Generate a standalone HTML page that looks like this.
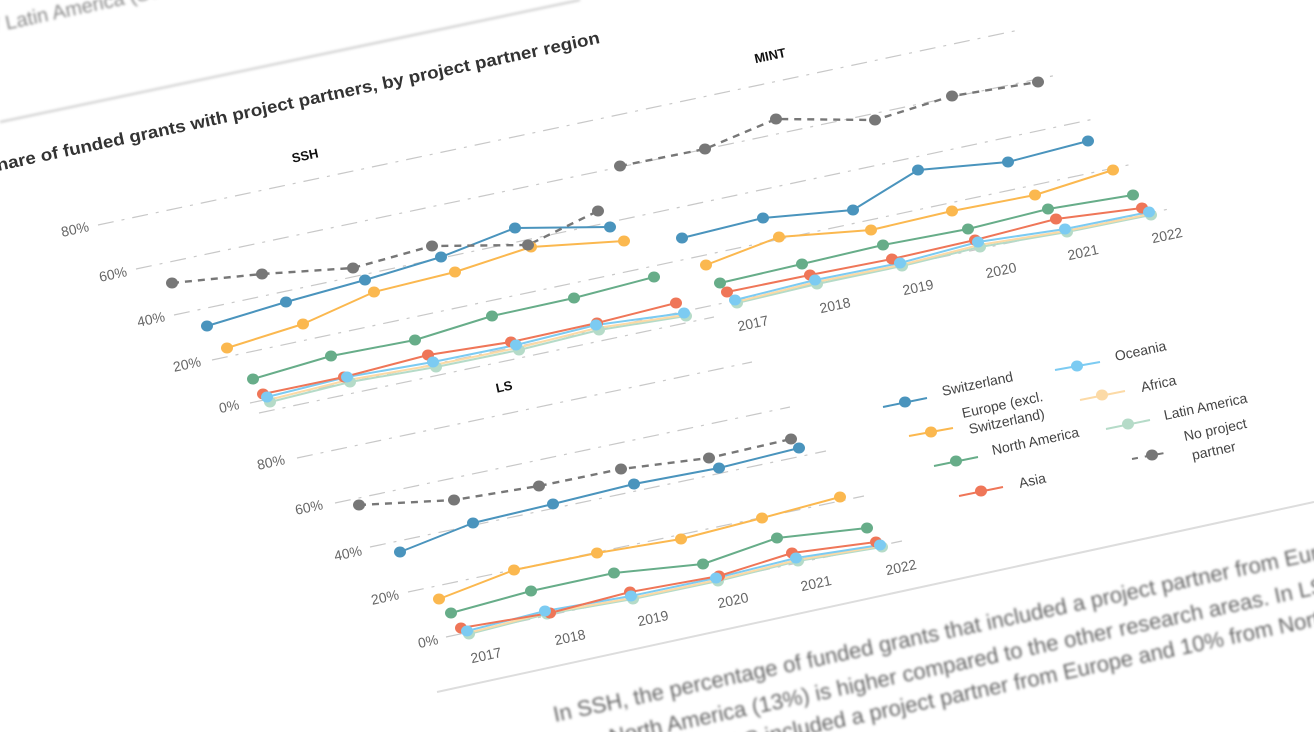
<!DOCTYPE html>
<html><head><meta charset="utf-8"><style>
html,body{margin:0;padding:0;background:#fff;width:1314px;height:732px;overflow:hidden}
svg{display:block;font-family:"Liberation Sans",sans-serif}
</style></head><body>
<svg width="1314" height="732" viewBox="0 0 1314 732">
<defs>
<filter id="b1"><feGaussianBlur stdDeviation="1.3"/></filter>
<clipPath id="cp"><rect x="0" y="0" width="1314" height="732"/></clipPath>
</defs>
<g clip-path="url(#cp)">
<g filter="url(#b1)">
<text transform="translate(-4,32) rotate(-12)" font-size="20" fill="#8a8a8a">/ Latin America (South</text>
<line x1="0" y1="122" x2="580" y2="0" stroke="#ccc" stroke-width="2"/>
</g>
<text transform="translate(-2,171) rotate(-12)" font-size="17" font-weight="bold" fill="#333" textLength="616" lengthAdjust="spacingAndGlyphs">hare of funded grants with project partners, by project partner region</text>
<text transform="translate(306,160) rotate(-12)" font-size="13" font-weight="bold" fill="#111" text-anchor="middle">SSH</text>
<text transform="translate(771,60) rotate(-12)" font-size="13" font-weight="bold" fill="#111" text-anchor="middle">MINT</text>
<text transform="translate(505,391) rotate(-12)" font-size="13" font-weight="bold" fill="#111" text-anchor="middle">LS</text>

<g stroke="#c8c8c8" stroke-width="1.2" stroke-dasharray="16 8 3 8" fill="none">
<line x1="250" y1="403" x2="1169" y2="209"/>
<line x1="212" y1="360" x2="1133" y2="164"/>
<line x1="174" y1="315" x2="1094" y2="119"/>
<line x1="136" y1="269" x2="1057" y2="75"/>
<line x1="98" y1="225" x2="1019" y2="30"/>
<line x1="446" y1="637" x2="902" y2="541"/>
<line x1="408" y1="592" x2="864" y2="496"/>
<line x1="370" y1="547" x2="826" y2="451"/>
<line x1="335" y1="503" x2="790" y2="407"/>
<line x1="297" y1="458" x2="752" y2="362"/>
<line x1="259" y1="413" x2="714" y2="317"/>
</g>
<g font-size="14" fill="#666" text-anchor="middle">
<text transform="translate(76,234) rotate(-12)">80%</text>
<text transform="translate(114,279) rotate(-12)">60%</text>
<text transform="translate(152,324) rotate(-12)">40%</text>
<text transform="translate(188,369) rotate(-12)">20%</text>
<text transform="translate(230,411) rotate(-12)">0%</text>
<text transform="translate(272,467) rotate(-12)">80%</text>
<text transform="translate(310,512) rotate(-12)">60%</text>
<text transform="translate(349,558) rotate(-12)">40%</text>
<text transform="translate(386,602) rotate(-12)">20%</text>
<text transform="translate(429,646) rotate(-12)">0%</text>
<text transform="translate(754,328) rotate(-12)">2017</text>
<text transform="translate(836,310) rotate(-12)">2018</text>
<text transform="translate(919,292) rotate(-12)">2019</text>
<text transform="translate(1002,275) rotate(-12)">2020</text>
<text transform="translate(1084,257) rotate(-12)">2021</text>
<text transform="translate(1168,240) rotate(-12)">2022</text>
<text transform="translate(487,660) rotate(-12)">2017</text>
<text transform="translate(571,642) rotate(-12)">2018</text>
<text transform="translate(654,623) rotate(-12)">2019</text>
<text transform="translate(734,605) rotate(-12)">2020</text>
<text transform="translate(817,588) rotate(-12)">2021</text>
<text transform="translate(902,572) rotate(-12)">2022</text>
</g>

<g fill="none" stroke-width="2" stroke-linejoin="round">
<polyline stroke="#b5dbc8" points="270,402 350,382 436,367 519,350 599,330 686,316"/>
<polyline stroke="#fcdaa6" points="268,400 348,380 434,365 517,348 597,328 685,315"/>
<polyline stroke="#7ccbf2" points="267,397 347,377 433,362 516,345 596,325 684,313"/>
<polyline stroke="#ef7658" points="263,394 344,377 428,355 511,342 597,323 676,303"/>
<polyline stroke="#67ad89" points="253,379 331,356 415,340 492,316 574,298 654,277"/>
<polyline stroke="#fbb84f" points="227,348 303,324 374,292 455,272 531,247 624,241"/>
<polyline stroke="#4a94bd" points="207,326 286,302 365,280 441,257 515,228 610,227"/>
<polyline stroke="#777" stroke-dasharray="7 6" stroke-width="2.4" points="172,283 262,274 353,268 432,246 528,245 598,211"/>
<polyline stroke="#b5dbc8" points="737,303 817,284 902,266 980,247 1067,232 1151,215"/>
<polyline stroke="#fcdaa6" points="736,302 816,282 901,265 979,245 1066,231 1150,214"/>
<polyline stroke="#7ccbf2" points="735,300 815,280 900,263 978,242 1065,229 1149,212"/>
<polyline stroke="#ef7658" points="727,292 810,275 892,259 975,240 1056,219 1142,208"/>
<polyline stroke="#67ad89" points="720,283 802,264 883,245 968,229 1048,209 1133,195"/>
<polyline stroke="#fbb84f" points="706,265 779,237 871,230 952,211 1035,195 1113,170"/>
<polyline stroke="#4a94bd" points="682,238 763,218 853,210 918,170 1008,162 1088,141"/>
<polyline stroke="#777" stroke-dasharray="7 6" stroke-width="2.4" points="620,166 705,149 776,119 875,120 952,96 1038,82"/>
<polyline stroke="#b5dbc8" points="469,634 547,614 633,599 718,581 798,561 882,547"/>
<polyline stroke="#fcdaa6" points="468,633 546,613 632,598 717,580 797,560 881,546"/>
<polyline stroke="#7ccbf2" points="467,631 545,611 631,596 716,578 796,558 880,545"/>
<polyline stroke="#ef7658" points="461,628 550,613 630,592 719,576 792,553 876,542"/>
<polyline stroke="#67ad89" points="451,613 531,591 614,573 703,564 777,538 867,528"/>
<polyline stroke="#fbb84f" points="439,599 514,570 597,553 681,539 762,518 840,497"/>
<polyline stroke="#4a94bd" points="400,552 473,523 553,504 634,484 719,468 799,448"/>
<polyline stroke="#777" stroke-dasharray="7 6" stroke-width="2.4" points="359,505 454,500 539,486 621,469 709,458 791,439"/>
</g>

<g>
<g fill="#b5dbc8"><ellipse cx="270" cy="402" rx="6" ry="5.5"/><ellipse cx="350" cy="382" rx="6" ry="5.5"/><ellipse cx="436" cy="367" rx="6" ry="5.5"/><ellipse cx="519" cy="350" rx="6" ry="5.5"/><ellipse cx="599" cy="330" rx="6" ry="5.5"/><ellipse cx="686" cy="316" rx="6" ry="5.5"/></g>
<g fill="#ef7658"><ellipse cx="263" cy="394" rx="6" ry="5.5"/><ellipse cx="344" cy="377" rx="6" ry="5.5"/><ellipse cx="428" cy="355" rx="6" ry="5.5"/><ellipse cx="511" cy="342" rx="6" ry="5.5"/><ellipse cx="597" cy="323" rx="6" ry="5.5"/><ellipse cx="676" cy="303" rx="6" ry="5.5"/></g>
<g fill="#7ccbf2"><ellipse cx="267" cy="397" rx="6" ry="5.5"/><ellipse cx="347" cy="377" rx="6" ry="5.5"/><ellipse cx="433" cy="362" rx="6" ry="5.5"/><ellipse cx="516" cy="345" rx="6" ry="5.5"/><ellipse cx="596" cy="325" rx="6" ry="5.5"/><ellipse cx="684" cy="313" rx="6" ry="5.5"/></g>
<g fill="#67ad89"><ellipse cx="253" cy="379" rx="6" ry="5.5"/><ellipse cx="331" cy="356" rx="6" ry="5.5"/><ellipse cx="415" cy="340" rx="6" ry="5.5"/><ellipse cx="492" cy="316" rx="6" ry="5.5"/><ellipse cx="574" cy="298" rx="6" ry="5.5"/><ellipse cx="654" cy="277" rx="6" ry="5.5"/></g>
<g fill="#fbb84f"><ellipse cx="227" cy="348" rx="6" ry="5.5"/><ellipse cx="303" cy="324" rx="6" ry="5.5"/><ellipse cx="374" cy="292" rx="6" ry="5.5"/><ellipse cx="455" cy="272" rx="6" ry="5.5"/><ellipse cx="531" cy="247" rx="6" ry="5.5"/><ellipse cx="624" cy="241" rx="6" ry="5.5"/></g>
<g fill="#4a94bd"><ellipse cx="207" cy="326" rx="6" ry="5.5"/><ellipse cx="286" cy="302" rx="6" ry="5.5"/><ellipse cx="365" cy="280" rx="6" ry="5.5"/><ellipse cx="441" cy="257" rx="6" ry="5.5"/><ellipse cx="515" cy="228" rx="6" ry="5.5"/><ellipse cx="610" cy="227" rx="6" ry="5.5"/></g>
<g fill="#777"><ellipse cx="172" cy="283" rx="6" ry="5.5"/><ellipse cx="262" cy="274" rx="6" ry="5.5"/><ellipse cx="353" cy="268" rx="6" ry="5.5"/><ellipse cx="432" cy="246" rx="6" ry="5.5"/><ellipse cx="528" cy="245" rx="6" ry="5.5"/><ellipse cx="598" cy="211" rx="6" ry="5.5"/></g>
<g fill="#b5dbc8"><ellipse cx="737" cy="303" rx="6" ry="5.5"/><ellipse cx="817" cy="284" rx="6" ry="5.5"/><ellipse cx="902" cy="266" rx="6" ry="5.5"/><ellipse cx="980" cy="247" rx="6" ry="5.5"/><ellipse cx="1067" cy="232" rx="6" ry="5.5"/><ellipse cx="1151" cy="215" rx="6" ry="5.5"/></g>
<g fill="#ef7658"><ellipse cx="727" cy="292" rx="6" ry="5.5"/><ellipse cx="810" cy="275" rx="6" ry="5.5"/><ellipse cx="892" cy="259" rx="6" ry="5.5"/><ellipse cx="975" cy="240" rx="6" ry="5.5"/><ellipse cx="1056" cy="219" rx="6" ry="5.5"/><ellipse cx="1142" cy="208" rx="6" ry="5.5"/></g>
<g fill="#7ccbf2"><ellipse cx="735" cy="300" rx="6" ry="5.5"/><ellipse cx="815" cy="280" rx="6" ry="5.5"/><ellipse cx="900" cy="263" rx="6" ry="5.5"/><ellipse cx="978" cy="242" rx="6" ry="5.5"/><ellipse cx="1065" cy="229" rx="6" ry="5.5"/><ellipse cx="1149" cy="212" rx="6" ry="5.5"/></g>
<g fill="#67ad89"><ellipse cx="720" cy="283" rx="6" ry="5.5"/><ellipse cx="802" cy="264" rx="6" ry="5.5"/><ellipse cx="883" cy="245" rx="6" ry="5.5"/><ellipse cx="968" cy="229" rx="6" ry="5.5"/><ellipse cx="1048" cy="209" rx="6" ry="5.5"/><ellipse cx="1133" cy="195" rx="6" ry="5.5"/></g>
<g fill="#fbb84f"><ellipse cx="706" cy="265" rx="6" ry="5.5"/><ellipse cx="779" cy="237" rx="6" ry="5.5"/><ellipse cx="871" cy="230" rx="6" ry="5.5"/><ellipse cx="952" cy="211" rx="6" ry="5.5"/><ellipse cx="1035" cy="195" rx="6" ry="5.5"/><ellipse cx="1113" cy="170" rx="6" ry="5.5"/></g>
<g fill="#4a94bd"><ellipse cx="682" cy="238" rx="6" ry="5.5"/><ellipse cx="763" cy="218" rx="6" ry="5.5"/><ellipse cx="853" cy="210" rx="6" ry="5.5"/><ellipse cx="918" cy="170" rx="6" ry="5.5"/><ellipse cx="1008" cy="162" rx="6" ry="5.5"/><ellipse cx="1088" cy="141" rx="6" ry="5.5"/></g>
<g fill="#777"><ellipse cx="620" cy="166" rx="6" ry="5.5"/><ellipse cx="705" cy="149" rx="6" ry="5.5"/><ellipse cx="776" cy="119" rx="6" ry="5.5"/><ellipse cx="875" cy="120" rx="6" ry="5.5"/><ellipse cx="952" cy="96" rx="6" ry="5.5"/><ellipse cx="1038" cy="82" rx="6" ry="5.5"/></g>
<g fill="#b5dbc8"><ellipse cx="469" cy="634" rx="6" ry="5.5"/><ellipse cx="547" cy="614" rx="6" ry="5.5"/><ellipse cx="633" cy="599" rx="6" ry="5.5"/><ellipse cx="718" cy="581" rx="6" ry="5.5"/><ellipse cx="798" cy="561" rx="6" ry="5.5"/><ellipse cx="882" cy="547" rx="6" ry="5.5"/></g>
<g fill="#ef7658"><ellipse cx="461" cy="628" rx="6" ry="5.5"/><ellipse cx="550" cy="613" rx="6" ry="5.5"/><ellipse cx="630" cy="592" rx="6" ry="5.5"/><ellipse cx="719" cy="576" rx="6" ry="5.5"/><ellipse cx="792" cy="553" rx="6" ry="5.5"/><ellipse cx="876" cy="542" rx="6" ry="5.5"/></g>
<g fill="#7ccbf2"><ellipse cx="467" cy="631" rx="6" ry="5.5"/><ellipse cx="545" cy="611" rx="6" ry="5.5"/><ellipse cx="631" cy="596" rx="6" ry="5.5"/><ellipse cx="716" cy="578" rx="6" ry="5.5"/><ellipse cx="796" cy="558" rx="6" ry="5.5"/><ellipse cx="880" cy="545" rx="6" ry="5.5"/></g>
<g fill="#67ad89"><ellipse cx="451" cy="613" rx="6" ry="5.5"/><ellipse cx="531" cy="591" rx="6" ry="5.5"/><ellipse cx="614" cy="573" rx="6" ry="5.5"/><ellipse cx="703" cy="564" rx="6" ry="5.5"/><ellipse cx="777" cy="538" rx="6" ry="5.5"/><ellipse cx="867" cy="528" rx="6" ry="5.5"/></g>
<g fill="#fbb84f"><ellipse cx="439" cy="599" rx="6" ry="5.5"/><ellipse cx="514" cy="570" rx="6" ry="5.5"/><ellipse cx="597" cy="553" rx="6" ry="5.5"/><ellipse cx="681" cy="539" rx="6" ry="5.5"/><ellipse cx="762" cy="518" rx="6" ry="5.5"/><ellipse cx="840" cy="497" rx="6" ry="5.5"/></g>
<g fill="#4a94bd"><ellipse cx="400" cy="552" rx="6" ry="5.5"/><ellipse cx="473" cy="523" rx="6" ry="5.5"/><ellipse cx="553" cy="504" rx="6" ry="5.5"/><ellipse cx="634" cy="484" rx="6" ry="5.5"/><ellipse cx="719" cy="468" rx="6" ry="5.5"/><ellipse cx="799" cy="448" rx="6" ry="5.5"/></g>
<g fill="#777"><ellipse cx="359" cy="505" rx="6" ry="5.5"/><ellipse cx="454" cy="500" rx="6" ry="5.5"/><ellipse cx="539" cy="486" rx="6" ry="5.5"/><ellipse cx="621" cy="469" rx="6" ry="5.5"/><ellipse cx="709" cy="458" rx="6" ry="5.5"/><ellipse cx="791" cy="439" rx="6" ry="5.5"/></g>
</g>

<g stroke-width="2">
<line x1="883" y1="407" x2="927" y2="398" stroke="#4a94bd"/><ellipse cx="905" cy="402" rx="6" ry="5.5" fill="#4a94bd"/>
<line x1="909" y1="436" x2="953" y2="428" stroke="#fbb84f"/><ellipse cx="931" cy="432" rx="6" ry="5.5" fill="#fbb84f"/>
<line x1="934" y1="466" x2="978" y2="457" stroke="#67ad89"/><ellipse cx="956" cy="461" rx="6" ry="5.5" fill="#67ad89"/>
<line x1="959" y1="496" x2="1003" y2="487" stroke="#ef7658"/><ellipse cx="981" cy="491" rx="6" ry="5.5" fill="#ef7658"/>
<line x1="1055" y1="370" x2="1100" y2="362" stroke="#7ccbf2"/><ellipse cx="1077" cy="366" rx="6" ry="5.5" fill="#7ccbf2"/>
<line x1="1080" y1="400" x2="1125" y2="391" stroke="#fcdaa6"/><ellipse cx="1102" cy="395" rx="6" ry="5.5" fill="#fcdaa6"/>
<line x1="1106" y1="429" x2="1150" y2="420" stroke="#b5dbc8"/><ellipse cx="1128" cy="424" rx="6" ry="5.5" fill="#b5dbc8"/>
<line x1="1132" y1="459" x2="1170" y2="452" stroke="#777" stroke-dasharray="6 7"/><ellipse cx="1152" cy="455" rx="6" ry="5.5" fill="#777"/>
</g>
<g font-size="14" fill="#444">
<text transform="translate(943,396) rotate(-12)">Switzerland</text>
<text transform="translate(963,418) rotate(-12)">Europe (excl.</text>
<text transform="translate(970,434) rotate(-12)">Switzerland)</text>
<text transform="translate(993,455) rotate(-12)">North America</text>
<text transform="translate(1020,488) rotate(-12)">Asia</text>
<text transform="translate(1116,361) rotate(-12)">Oceania</text>
<text transform="translate(1142,392) rotate(-12)">Africa</text>
<text transform="translate(1165,420) rotate(-12)">Latin America</text>
<text transform="translate(1185,441) rotate(-12)">No project</text>
<text transform="translate(1193,460) rotate(-12)">partner</text>
</g>

<line x1="437" y1="692" x2="1314" y2="502" stroke="#ddd" stroke-width="2"/>
<g filter="url(#b1)" font-size="22" fill="#666">
<text transform="translate(555,722) rotate(-12)">In SSH, the percentage of funded grants that included a project partner from Europe (</text>
<text transform="translate(562,755) rotate(-12)">from North America (13%) is higher compared to the other research areas. In LS</text>
<text transform="translate(640,770) rotate(-12)">funded in LS included a project partner from Europe and 10% from North</text>
</g>
</g>
</svg>
</body></html>
